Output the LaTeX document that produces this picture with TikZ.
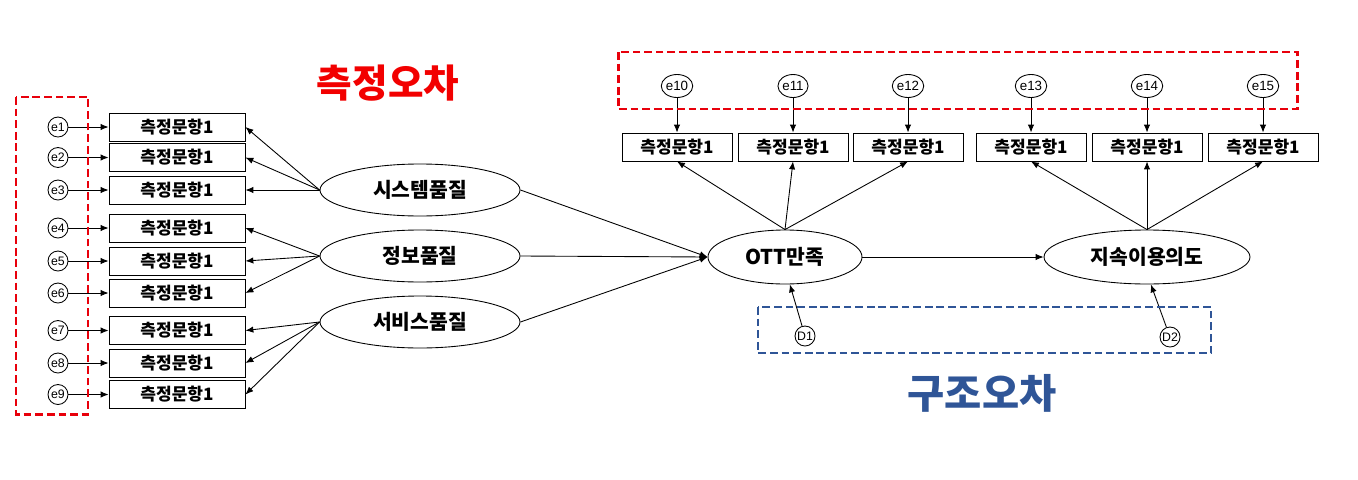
\documentclass[tikz,border=0pt]{standalone}
\usepackage{fontspec}
\setmainfont{Noto Sans CJK KR}
\newfontfamily\errfont{Liberation Sans}
\usetikzlibrary{arrows.meta, shapes.geometric, positioning}

\definecolor{errred}{HTML}{E8000B}
\definecolor{titlered}{HTML}{F20000}
\definecolor{strblue}{HTML}{2F5597}

\begin{document}
\begin{tikzpicture}[
  item/.style={draw, line width=0.5pt, minimum width=2.72cm, minimum height=0.56cm,
               inner sep=0pt, font=\bfseries\fontsize{9.7}{10}\selectfont},
  topitem/.style={item, minimum width=2.2cm},
  latent/.style={draw, ellipse, line width=0.5pt, minimum width=4cm, minimum height=1.04cm,
                 inner sep=0pt, font=\bfseries\fontsize{11.6}{12}\selectfont},
  err/.style={draw, circle, line width=0.5pt, minimum size=0.4cm, inner sep=0pt,
              font=\errfont\fontsize{7}{7}\selectfont},
  toperr/.style={err, ellipse, minimum width=0.36cm, minimum height=0.46cm,
                 font=\errfont\fontsize{7.6}{7}\selectfont},
  arr/.style={-{Latex[length=4.5pt,width=3.6pt]}, line width=0.5pt},
  zone/.style={dashed, dash pattern=on 4.4pt off 2.2pt, line width=1.7pt}
]
  \useasboundingbox (0,0) rectangle (27.16,-9.58);

  % measurement items (left)
  \node[item] (m1) at (3.54,-2.54) {측정문항1};
  \node[item] (m2) at (3.54,-3.15) {측정문항1};
  \node[item] (m3) at (3.54,-3.80) {측정문항1};
  \node[item] (m4) at (3.54,-4.56) {측정문항1};
  \node[item] (m5) at (3.54,-5.22) {측정문항1};
  \node[item] (m6) at (3.54,-5.86) {측정문항1};
  \node[item] (m7) at (3.54,-6.61) {측정문항1};
  \node[item] (m8) at (3.54,-7.26) {측정문항1};
  \node[item] (m9) at (3.54,-7.89) {측정문항1};

  \node[err] (e1) at (1.16,-2.54) {e1};
  \node[err] (e2) at (1.16,-3.15) {e2};
  \node[err] (e3) at (1.16,-3.80) {e3};
  \node[err] (e4) at (1.16,-4.56) {e4};
  \node[err] (e5) at (1.16,-5.22) {e5};
  \node[err] (e6) at (1.16,-5.86) {e6};
  \node[err] (e7) at (1.16,-6.61) {e7};
  \node[err] (e8) at (1.16,-7.26) {e8};
  \node[err] (e9) at (1.16,-7.89) {e9};

  % latent variables
  \node[latent] (sys) at (8.40,-3.80) {시스템품질};
  \node[latent] (info) at (8.40,-5.12) {정보품질};
  \node[latent] (serv) at (8.40,-6.44) {서비스품질};
  \node[latent, minimum width=3.08cm, minimum height=1.08cm] (sat) at (15.70,-5.14) {OTT만족};
  \node[latent, minimum width=4.12cm, minimum height=1.08cm] (cont) at (22.94,-5.14) {지속이용의도};

  % measurement items (top)
  \node[topitem] (t1) at (13.54,-2.94) {측정문항1};
  \node[topitem] (t2) at (15.86,-2.94) {측정문항1};
  \node[topitem] (t3) at (18.16,-2.94) {측정문항1};
  \node[topitem] (t4) at (20.62,-2.94) {측정문항1};
  \node[topitem] (t5) at (22.94,-2.94) {측정문항1};
  \node[topitem] (t6) at (25.26,-2.94) {측정문항1};

  \node[toperr] (e10) at (13.54,-1.72) {e10};
  \node[toperr] (e11) at (15.86,-1.72) {e11};
  \node[toperr] (e12) at (18.16,-1.72) {e12};
  \node[toperr] (e13) at (20.62,-1.72) {e13};
  \node[toperr] (e14) at (22.94,-1.72) {e14};
  \node[toperr] (e15) at (25.26,-1.72) {e15};

  % disturbances
  \node[err] (d1) at (16.10,-6.72) {D1};
  \node[err] (d2) at (23.40,-6.74) {D2};

  % error arrows
  \draw[arr] (e1) -- (m1);
  \draw[arr] (e2) -- (m2);
  \draw[arr] (e3) -- (m3);
  \draw[arr] (e4) -- (m4);
  \draw[arr] (e5) -- (m5);
  \draw[arr] (e6) -- (m6);
  \draw[arr] (e7) -- (m7);
  \draw[arr] (e8) -- (m8);
  \draw[arr] (e9) -- (m9);
  \draw[arr] (e10) -- (t1);
  \draw[arr] (e11) -- (t2);
  \draw[arr] (e12) -- (t3);
  \draw[arr] (e13) -- (t4);
  \draw[arr] (e14) -- (t5);
  \draw[arr] (e15) -- (t6);

  % loadings
  \draw[arr] (sys.west) -- (m1.east);
  \draw[arr] (sys.west) -- (m2.east);
  \draw[arr] (sys.west) -- (m3.east);
  \draw[arr] (info.west) -- (m4.east);
  \draw[arr] (info.west) -- (m5.east);
  \draw[arr] (info.west) -- (m6.east);
  \draw[arr] (serv.west) -- (m7.east);
  \draw[arr] (serv.west) -- (m8.east);
  \draw[arr] (serv.west) -- (m9.east);
  \draw[arr] (sat.north) -- (t1.south);
  \draw[arr] (sat.north) -- (t2.south);
  \draw[arr] (sat.north) -- (t3.south);
  \draw[arr] (cont.north) -- (t4.south);
  \draw[arr] (cont.north) -- (t5.south);
  \draw[arr] (cont.north) -- (t6.south);

  % structural paths
  \draw[arr] (sys.east) -- (sat.west);
  \draw[arr] (info.east) -- (sat.west);
  \draw[arr] (serv.east) -- (sat.west);
  \draw[arr] (sat.east) -- (cont.west);
  \draw[arr] (d1) -- (sat.-80);
  \draw[arr] (d2) -- (cont.-82);

  % error groups
  \draw[zone, errred] (0.32,-1.94) rectangle (1.76,-8.28);
  \draw[zone, errred] (12.36,-1.04) rectangle (25.94,-2.18);
  \draw[zone, strblue, line width=1.5pt] (15.16,-6.14) rectangle (24.22,-7.06);

  \node[font=\bfseries\fontsize{22}{24}\selectfont, text=titlered] (merr) at (7.76,-1.66) {측정오차};
  \node[font=\bfseries\fontsize{23}{26}\selectfont, text=strblue] (serr) at (19.64,-7.86) {구조오차};
\end{tikzpicture}
\end{document}
